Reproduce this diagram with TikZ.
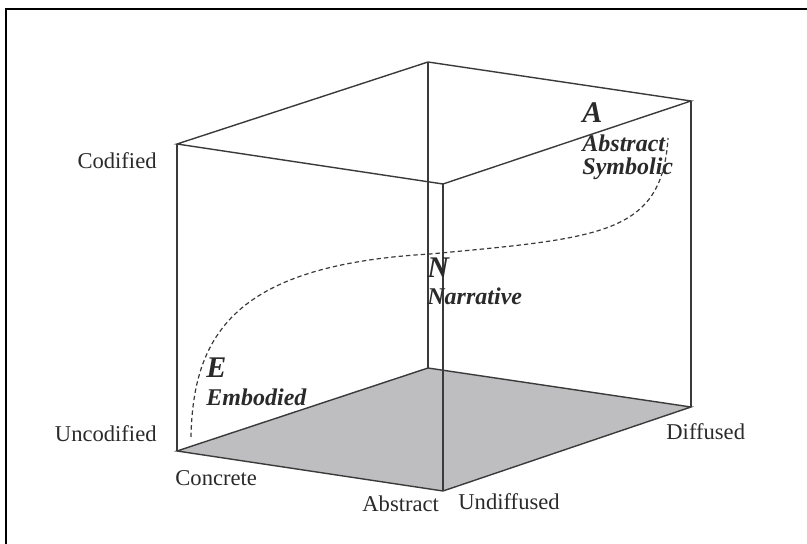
\documentclass[tikz,border=0pt]{standalone}
\usepackage{fontspec}
\setmainfont{Liberation Serif}
\usetikzlibrary{positioning}
\definecolor{edgeink}{HTML}{3A3A3A}
\definecolor{floorgrey}{HTML}{BEBEC0}
\definecolor{labink}{HTML}{2A2A2A}

\begin{document}
\begin{tikzpicture}[x=0.5pt, y=-0.5pt,
    edge/.style={edgeink, line width=0.7pt},
    axislab/.style={inner sep=0, text=labink, font=\fontsize{11.3}{13}\selectfont},
    corner/.style={inner sep=0, text=labink, anchor=base west, font=\fontsize{15}{17}\selectfont\bfseries\itshape},
    cornertext/.style={inner sep=0, text=labink, anchor=base west, font=\fontsize{12}{14}\selectfont\bfseries\itshape}]
  \useasboundingbox (0,0) rectangle (807,544);
  % frame of the cut-out
  \draw[black, line width=1pt] (6,544) -- (6,9) -- (807,9);
  % cube corners
  \coordinate (tb) at (428,62);  \coordinate (tl) at (177,144);
  \coordinate (tr) at (691,101); \coordinate (tf) at (443,184);
  \coordinate (bb) at (428,368); \coordinate (bl) at (177,451);
  \coordinate (br) at (691,407); \coordinate (bf) at (443,491);
  \fill[floorgrey] (bl) -- (bb) -- (br) -- (bf) -- cycle;
  \draw[edge] (tb) -- (tl) -- (tf) -- (tr) -- cycle;
  \draw[edge] (bl) -- (bb) -- (br) -- (bf) -- cycle;
  \foreach \c in {b,l,r,f}{%
    \draw[edge] (t\c) -- (b\c);}
  % axis labels
  \foreach \nm/\lab/\anc/\x/\y in {cod/Codified/base east/157/169,
      uncod/Uncodified/base east/157/441, concr/Concrete/base west/175/485,
      abstr/Abstract/base west/362/511, undiff/Undiffused/base west/458/509,
      diff/Diffused/base west/666/439}{%
    \node[axislab, anchor=\anc] (\nm) at (\x,\y) {\lab};}
  % the three points
  \node[corner] (lblA) at (582,123) {A};
  \node[cornertext] (descA) at (582,152) {Abstract};
  \node[cornertext] (descA2) at (582,175) {Symbolic};
  \node[corner] (lblN) at (427,278) {N};
  \node[cornertext] (descN) at (427,305) {Narrative};
  \node[corner] (lblE) at (206,378) {E};
  \node[cornertext] (descE) at (206,406) {Embodied};
  % path E - N - A
  \coordinate (pE) at (191,437);
  \coordinate (pN) at (430,254);
  \coordinate (pA) at (668,138);
  \draw[edgeink, line width=0.6pt, dash pattern=on 2.2pt off 1.5pt]
    (pE) .. controls (193,330) and (240,265) .. (pN)
         .. controls (600,238) and (662,235) .. (pA);
\end{tikzpicture}
\end{document}
